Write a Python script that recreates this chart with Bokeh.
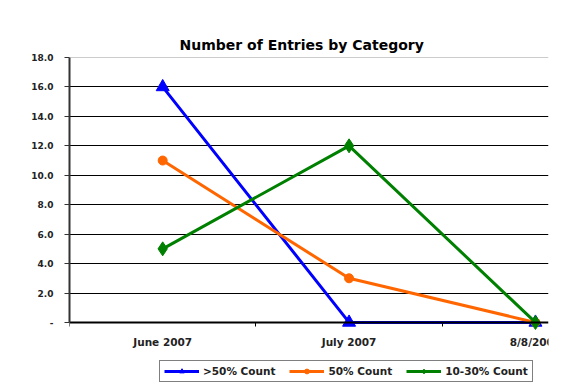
from bokeh.plotting import figure
from bokeh.models import FixedTicker, Span, Legend, LegendItem, Range1d, NumeralTickFormatter, Title
from bokeh.embed import file_html
from bokeh.resources import INLINE

categories = ["June 2007", "July 2007", "8/8/2007"]
over50 = [16, 0, 0]
fifty = [11, 3, 0]
ten30 = [5, 12, 0]
y_ticks = [0, 2, 4, 6, 8, 10, 12, 14, 16, 18]

xs = [i + 0.5 for i in range(len(categories))]

FONT = "DejaVu Sans"

p = figure(width=561, height=392, output_backend="svg", toolbar_location=None,
           x_range=Range1d(0, 2.57), y_range=Range1d(-4.76, 18),
           min_border_left=69, min_border_right=13, min_border_top=57, min_border_bottom=0)
p.outline_line_color = None
p.background_fill_color = "white"
p.border_fill_color = "white"
p.title = None

title = Title(text="Number of Entries by Category", align="left", offset=110,
              text_font=FONT, text_font_size="14px", text_font_style="bold",
              text_color="black", standoff=10)
p.add_layout(title, "above")

# spacer between frame and title
spacer = Title(text=" ", text_font=FONT, text_font_size="10px", standoff=12, text_alpha=0)
p.add_layout(spacer, "above")

# grid
p.xgrid.grid_line_color = None
p.ygrid.ticker = FixedTicker(ticks=y_ticks[1:-1])
p.ygrid.grid_line_color = "black"
p.ygrid.grid_line_width = 1
p.add_layout(Span(location=y_ticks[-1], dimension="width", line_color="#999999", line_width=1))

# x axis (drawn at y = 0)
xa = p.xaxis[0]
xa.fixed_location = 0
xa.ticker = FixedTicker(ticks=xs, minor_ticks=[0, 1, 2])
xa.major_label_overrides = {x: c for x, c in zip(xs, categories)}
xa.major_tick_line_color = None
xa.minor_tick_line_color = "black"
xa.minor_tick_out = 4
xa.minor_tick_in = 0
xa.axis_line_color = "black"
xa.axis_line_width = 2
xa.major_label_text_font = FONT
xa.major_label_text_font_size = "10.5px"
xa.major_label_text_font_style = "bold"
xa.major_label_text_color = "#222222"
xa.major_label_standoff = 8

# y axis
ya = p.yaxis[0]
ya.bounds = (y_ticks[0], y_ticks[-1])
ya.ticker = FixedTicker(ticks=y_ticks)
ya.formatter = NumeralTickFormatter(format="0.0")
ya.major_label_overrides = {0: "-"}
ya.axis_line_color = "#333333"
ya.axis_line_width = 2
ya.major_tick_line_color = "#333333"
ya.major_tick_out = 5
ya.major_tick_in = 0
ya.minor_tick_line_color = None
ya.major_label_text_font = FONT
ya.major_label_text_font_size = "9px"
ya.major_label_text_font_style = "bold"
ya.major_label_text_color = "#222222"
ya.major_label_standoff = 11

l1 = p.line(xs, over50, line_color="#0000ff", line_width=3)
m1 = p.scatter(xs, over50, marker="triangle", size=13, fill_color="#0000ff", line_color="#0000ff")
l2 = p.line(xs, fifty, line_color="#ff6600", line_width=3)
m2 = p.scatter(xs, fifty, marker="circle", size=9, fill_color="#ff6600", line_color="#ff6600")
l3 = p.line(xs, ten30, line_color="#008000", line_width=3)
m3 = p.scatter(xs, ten30, marker="diamond", size=14, fill_color="#008000", line_color="#008000")

legend = Legend(items=[
    LegendItem(label=">50% Count", renderers=[l1, m1]),
    LegendItem(label="50% Count", renderers=[l2, m2]),
    LegendItem(label="10-30% Count", renderers=[l3, m3]),
], location=(90, 10), orientation="horizontal")
legend.label_text_font = FONT
legend.label_text_font_size = "10.5px"
legend.label_text_font_style = "bold"
legend.label_text_color = "#222222"
legend.glyph_width = 35
legend.glyph_height = 12
legend.label_standoff = 4
legend.spacing = 14
legend.padding = 4
legend.margin = 0
legend.border_line_color = "black"
legend.border_line_width = 1.5
legend.background_fill_alpha = 1
legend.label_height = 12
p.add_layout(legend, "center")

open("out.html", "w").write(file_html(p, INLINE))
